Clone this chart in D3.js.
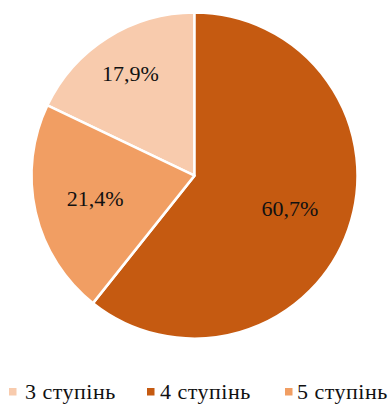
<!DOCTYPE html>
<html><head><meta charset="utf-8">
<script src="https://cdn.jsdelivr.net/npm/d3@7"></script>
<style>body{margin:0;background:#fff}svg{display:block}</style>
</head><body>
<svg id="c" width="390" height="405"></svg>
<script>
const categories = ["3 ступінь", "4 ступінь", "5 ступінь"];
const values = [17.9, 60.7, 21.4];
const labels = ["17,9%", "60,7%", "21,4%"];
const colors = ["#F8CBAD", "#C55A11", "#F19E63"];

const FONT = '"Liberation Serif"';
const W = 390, H = 405, cx = 194.5, cy = 175.6, R = 163;
const svg = d3.select("#c");
const g = svg.append("g").attr("transform", `translate(${cx},${cy})`);

const total = d3.sum(values);
const start = -values[0] / total * 2 * Math.PI;
const pie = d3.pie().sort(null).startAngle(start).endAngle(start + 2 * Math.PI);
const arcs = pie(values);
const arc = d3.arc().innerRadius(0).outerRadius(R);

g.selectAll("path").data(arcs).join("path")
  .attr("d", arc)
  .attr("fill", (d, i) => colors[i])
  .attr("stroke", "#fff").attr("stroke-width", 2.5).attr("stroke-linejoin", "round");

const labelR = [120, 101, 102];
g.selectAll("text").data(arcs).join("text")
  .attr("transform", (d, i) => {
    const a = (d.startAngle + d.endAngle) / 2;
    return `translate(${Math.sin(a) * labelR[i]},${-Math.cos(a) * labelR[i]})`;
  })
  .attr("text-anchor", "middle").attr("dy", "0.32em")
  .style("font-family", FONT).style("font-size", "22px").attr("fill", "#111")
  .text((d, i) => labels[i]);

const squareX = [9, 147, 285];
const textX = [25, 160, 297];
const lg = svg.append("g");
categories.forEach((c, i) => {
  lg.append("rect").attr("x", squareX[i]).attr("y", 388).attr("width", 7.5).attr("height", 7.5).attr("fill", colors[i]);
  lg.append("text").attr("x", textX[i]).attr("y", 399)
    .style("font-family", FONT).style("font-size", "22px").style("letter-spacing", "0.5px")
    .attr("fill", "#111").text(c);
});
</script>
</body></html>
